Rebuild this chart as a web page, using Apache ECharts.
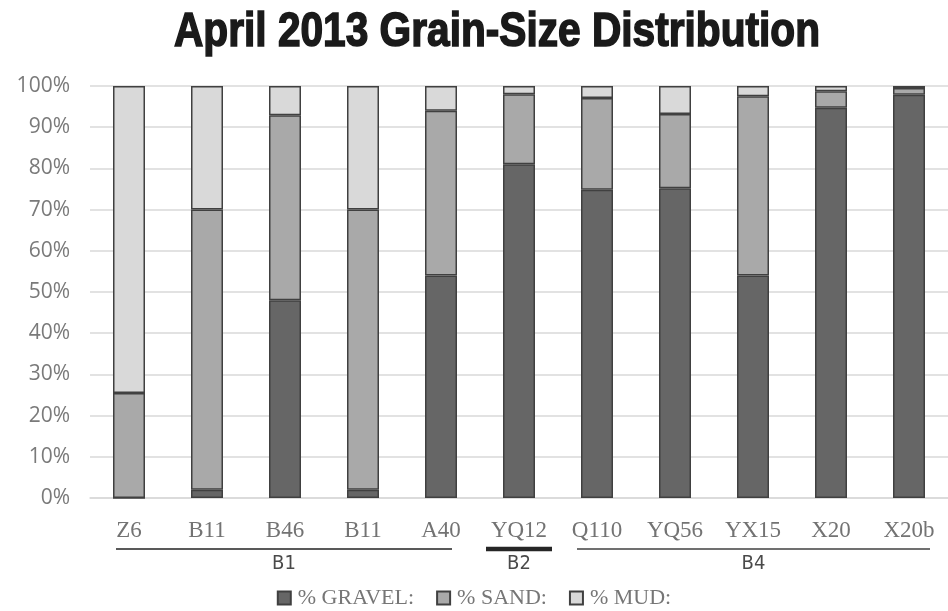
<!DOCTYPE html>
<html>
<head>
<meta charset="utf-8">
<script src="https://cdn.jsdelivr.net/npm/echarts@6/dist/echarts.min.js"></script>
<style>
  html, body { margin: 0; padding: 0; background: #fff; }
  #chart { width: 948px; height: 611px; }
</style>
</head>
<body>
<div id="chart"></div>
<script>
// sample sites
const sites = ["Z6", "B11", "B46", "B11", "A40", "YQ12", "Q110", "YQ56", "YX15", "X20", "X20b"];
// percentages per site
const gravel = [0, 2, 48, 2, 54, 81, 74.8, 75.2, 54, 94.7, 97.9];
const sand = [25.5, 68, 44.9, 68, 40, 17, 22.3, 18, 43.5, 4, 1.6];
const mud = [74.5, 30, 7.1, 30, 6, 2, 2.9, 6.8, 2.5, 1.3, 0.5];
const yTicks = [0, 10, 20, 30, 40, 50, 60, 70, 80, 90, 100];
// site groups (first / last site index)
const groupNames = ["B1", "B2", "B4"];
const groupFirst = [0, 5, 6];
const groupLast = [4, 5, 10];

const chart = echarts.init(document.getElementById("chart"));

const serif = "'Liberation Serif', serif";
const barBorder = { borderColor: "#404040", borderWidth: 1.5 };

const option = {
  animation: false,
  grid: { left: 90, top: 86, width: 861, height: 412 },
  legend: {
    top: 582,
    left: "center",
    itemWidth: 13,
    itemHeight: 13,
    itemGap: 22,
    icon: "rect",
    textStyle: { fontFamily: serif, fontSize: 22, color: "#767676", padding: [0, 0, 0, 2] },
    data: ["% GRAVEL:", "% SAND:", "% MUD:"]
  },
  xAxis: {
    type: "category",
    data: sites,
    axisLine: { lineStyle: { color: "#d9d9d9", width: 1.5 } },
    axisTick: { show: false },
    axisLabel: { fontFamily: serif, fontSize: 23, color: "#737373", margin: 21 }
  },
  yAxis: {
    type: "value",
    min: yTicks[0],
    max: yTicks[yTicks.length - 1],
    interval: 10,
    axisLine: { show: false },
    axisTick: { show: false },
    splitLine: { lineStyle: { color: "#d9d9d9", width: 1.5 } },
    axisLabel: {
      formatter: "{value}%",
      fontFamily: "'Open Sans', sans-serif",
      fontSize: 21,
      color: "#7a7a7a",
      margin: 20
    }
  },
  series: [
    {
      name: "% GRAVEL:", type: "bar", stack: "total", barWidth: 32,
      itemStyle: Object.assign({ color: "#666666" }, barBorder),
      data: gravel
    },
    {
      name: "% SAND:", type: "bar", stack: "total", barWidth: 32,
      itemStyle: Object.assign({ color: "#a9a9a9" }, barBorder),
      data: sand
    },
    {
      name: "% MUD:", type: "bar", stack: "total", barWidth: 32,
      itemStyle: Object.assign({ color: "#d9d9d9" }, barBorder),
      data: mud
    }
  ]
};

chart.setOption(option);

// title: heavy, squeezed sideways
const titleText = "April 2013 Grain-Size Distribution";
const titleFont = "bold 48px 'Liberation Sans', sans-serif";
const ctx = document.createElement("canvas").getContext("2d");
ctx.font = titleFont;
const titleScale = 646 / ctx.measureText(titleText).width;

// group brackets under the category labels
const lineStyles = [
  { stroke: "#595959", lineWidth: 2 },
  { stroke: "#262626", lineWidth: 4.5 },
  { stroke: "#404040", lineWidth: 1.5 }
];
const pads = [[13, 11], [33, 33], [20, 21]];
const graphics = [{
  type: "text",
  x: 497, y: 33,
  scaleX: titleScale,
  style: {
    text: titleText, font: titleFont, fill: "#1a1a1a",
    stroke: "#1a1a1a", lineWidth: 1.6,
    textAlign: "center", textVerticalAlign: "middle"
  }
}];
groupNames.forEach(function (name, i) {
  const x0 = chart.convertToPixel({ xAxisIndex: 0 }, groupFirst[i]) - pads[i][0];
  const x1 = chart.convertToPixel({ xAxisIndex: 0 }, groupLast[i]) + pads[i][1];
  graphics.push({
    type: "line",
    shape: { x1: x0, y1: 549, x2: x1, y2: 549 },
    style: lineStyles[i]
  });
  graphics.push({
    type: "text",
    x: (x0 + x1) / 2, y: 564,
    scaleX: 0.9,
    style: {
      text: name, font: "20px 'DejaVu Sans', sans-serif", fill: "#4a4a4a",
      textAlign: "center", textVerticalAlign: "middle"
    }
  });
});
chart.setOption({ graphic: graphics });

window.addEventListener("resize", function () {
  chart.resize();
});
</script>
</body>
</html>
